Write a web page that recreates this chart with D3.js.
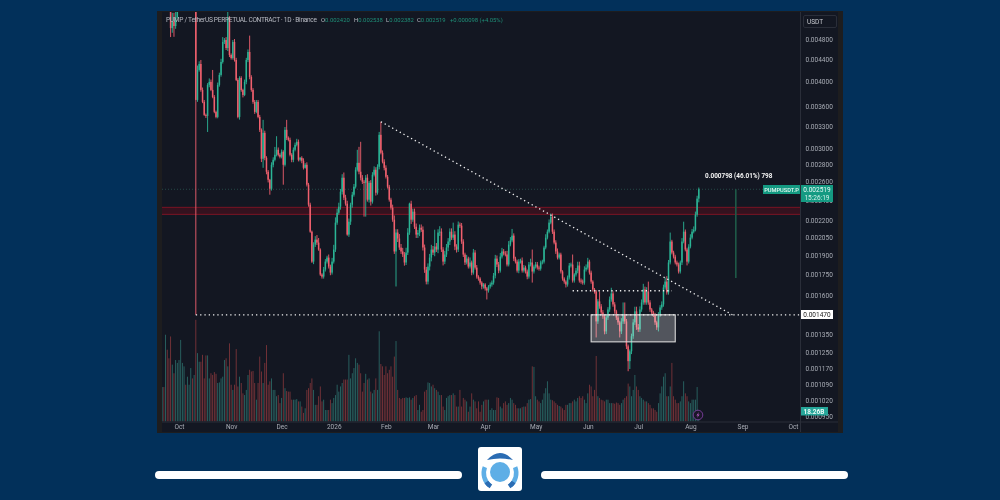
<!DOCTYPE html>
<html><head><meta charset="utf-8">
<style>
html,body{margin:0;padding:0;background:#02305a;width:1000px;height:500px;overflow:hidden}
svg{display:block}
text{font-family:Roboto,"Liberation Sans",sans-serif}
</style>
<script src="https://cdn.jsdelivr.net/npm/d3@7/dist/d3.min.js"></script>
</head><body><svg id="c" width="1000" height="500"></svg>
<script>
// All prices in millionths of a USDT. First candle: 21 Sep 2025, one per day.
const firstDay = "2025-09-21";
const closes = [
5900,5820,6000,5880,5700,5030,5170,5075,5270,5450,
5650,5800,5950,6050,5900,6000,6200,6300,6150,6400,
3696,4203,4312,3858,3665,3466,3451,3942,3993,3858,
3743,3511,3436,3942,4114,4350,4739,4779,4618,5254,
4482,4424,4739,4387,4027,3436,4061,3858,3776,3993,
4387,4540,4079,3858,3665,3511,3665,3436,3251,2871,
3209,2883,2716,2624,2525,2798,2859,2921,2984,2921,
2896,2958,2798,3251,3141,3114,2921,2859,2984,3048,
3088,2859,2883,2847,2762,2798,2569,2358,2100,1847,
1987,2030,2004,1945,1747,1732,1785,1847,1879,1808,
1762,1847,1945,2183,2278,2338,2493,2647,2430,2368,
2074,2192,2358,2461,2547,2739,2822,2716,2647,2602,
2590,2647,2409,2590,2389,2681,2739,2482,2774,3182,
2946,2835,2762,2658,2547,2409,2328,2211,1929,2092,
2039,1962,1929,1904,1840,1920,2092,2368,2211,2288,
2145,2074,2090,2136,2118,1962,1785,1695,1808,1879,
1945,1920,1970,1945,2092,2100,1945,1847,1904,1962,
2013,2100,2047,2074,1970,1945,2164,2155,2013,1904,
1840,1871,1808,1840,1762,1920,1800,1732,1717,1688,
1660,1674,1646,1632,1660,1674,1688,1739,1871,1824,
1777,1887,1929,1912,1904,1824,1987,2022,2065,1871,
1847,1777,1847,1855,1777,1800,1770,1732,1824,1840,
1770,1808,1824,1800,1792,1840,1847,1962,2047,2100,
2183,2240,2100,2004,1929,1879,1904,1770,1717,1695,
1674,1725,1816,1824,1703,1747,1777,1816,1703,1695,
1688,1785,1800,1847,1762,1695,1639,1625,1429,1557,
1524,1485,1460,1369,1453,1504,1570,1611,1537,1492,
1453,1423,1369,1429,1472,1429,1284,1205,1257,1341,
1423,1492,1393,1381,1504,1550,1639,1550,1625,1550,
1504,1485,1472,1423,1393,1472,1517,1537,1653,1695,
1618,1840,2013,1920,1887,1840,1824,1770,1840,2013,
2100,1945,1847,1970,2047,2100,2118,2259,2420,2519];
const upperWicks = [
200,200,200,200,200,200,200,200,200,200,
200,200,200,200,200,200,200,200,200,200,
100,80,50,75,40,30,20,30,60,40,
345,30,20,40,40,60,100,40,60,500,
40,30,40,60,40,30,30,30,20,40,
40,50,330,30,30,30,30,30,30,20,
184,30,20,20,10,30,30,100,179,30,
20,30,20,40,142,20,30,20,30,30,
40,30,10,20,30,20,30,20,20,10,
20,30,40,40,10,10,20,20,15,25,
15,30,40,50,40,40,30,40,60,30,
30,30,20,30,30,30,162,200,372,30,
20,30,40,20,30,30,40,30,30,40,
184,30,30,30,20,20,20,30,40,30,
30,40,30,30,20,40,40,10,30,30,
30,30,25,30,30,30,25,20,25,30,
40,30,148,30,30,50,30,20,30,30,
30,30,30,109,30,20,30,20,25,20,
15,30,15,40,15,30,20,20,10,10,
10,10,10,10,10,15,15,20,30,25,
20,30,30,20,20,30,30,30,60,20,
15,15,20,15,25,20,15,15,20,30,
105,15,20,20,15,15,15,15,30,20,
30,30,30,20,20,25,15,15,10,10,
10,15,20,15,80,10,20,30,30,15,
15,25,25,30,15,15,10,10,10,15,
68,15,15,10,20,15,20,40,15,15,
10,10,10,20,78,78,15,10,10,15,
20,30,30,20,20,20,40,20,30,70,
15,10,10,10,10,15,15,20,20,30,
40,20,79,15,15,15,15,15,15,30,
92,20,15,20,30,25,30,30,30,19];
const lowerWicks = [
60,40,40,50,60,190,100,230,60,20,
40,40,40,40,40,40,40,40,40,40,
2226,30,30,30,20,15,30,230,40,20,
20,20,20,20,30,30,30,40,40,60,
40,30,30,30,20,20,40,30,40,20,
40,40,40,30,30,30,20,20,30,40,
109,30,30,30,64,20,30,20,20,20,
20,20,229,20,30,20,20,30,30,20,
20,20,20,30,20,10,20,20,10,10,
20,20,20,10,10,15,15,15,15,15,
20,15,15,20,20,20,30,30,25,20,
10,20,30,30,20,20,20,30,30,25,
350,350,20,30,40,20,20,30,20,30,
20,20,30,20,20,20,20,20,20,269,
30,20,20,20,25,20,20,20,40,20,
20,30,30,30,20,25,25,20,20,30,
30,20,30,20,30,30,20,30,20,20,
30,30,20,20,30,25,20,20,20,20,
20,15,15,15,20,15,15,15,15,15,
20,15,15,62,15,15,15,15,20,20,
20,15,15,15,15,15,15,15,15,20,
15,15,20,15,15,15,15,20,15,15,
82,15,15,15,15,15,15,15,15,15,
15,15,20,15,20,15,15,15,15,15,
21,15,15,15,15,15,15,20,15,15,
15,15,15,15,15,15,15,15,95,15,
15,15,15,17,15,15,15,15,15,15,
15,15,35,15,15,15,15,51,40,15,
15,15,15,15,15,15,15,15,15,15,
15,15,15,15,15,24,15,15,15,15,
15,15,15,15,15,15,15,15,15,20,
15,15,30,15,15,15,15,15,20,38];
// Volume in billions
const volumes = [
60,60,151,125,110,148,99,84,107,102,
107,142,102,96,64,78,64,93,75,81,
177,119,104,104,116,75,115,115,75,84,
81,86,83,67,68,75,78,107,110,96,
136,64,55,64,126,61,78,67,49,46,
55,81,90,87,88,67,38,67,113,87,
67,102,133,64,70,75,55,55,44,46,
32,41,84,58,53,52,52,38,38,38,
39,35,35,26,15,23,55,58,67,75,
55,29,29,44,61,35,38,20,20,20,
38,32,41,46,64,52,61,67,73,73,
73,116,75,84,93,110,102,99,84,52,
67,83,73,75,52,49,55,75,55,157,
100,96,81,96,84,90,96,78,113,140,
55,41,39,41,41,42,41,42,38,41,
44,46,20,29,17,20,52,55,68,67,
61,64,58,55,52,46,46,26,20,41,
44,46,46,49,46,26,26,55,26,41,
38,35,17,26,49,38,35,23,35,17,
29,35,38,38,38,20,23,20,20,42,
41,26,23,32,35,29,32,41,38,32,
29,23,23,23,25,26,26,32,38,39,
96,95,44,38,35,32,38,49,58,70,
49,38,37,35,32,29,27,26,23,20,
29,29,32,32,35,38,35,41,44,41,
44,38,32,49,64,61,44,55,114,44,
41,38,37,35,38,38,32,32,32,31,
33,32,29,32,38,41,44,66,61,44,
55,81,61,55,44,41,38,35,35,32,
29,23,23,20,17,32,49,61,78,84,
44,44,61,102,44,38,32,32,35,44,
70,49,44,35,32,38,38,38,60,18.26];
const priceTicks = [4800,4400,4000,3600,3300,3000,2800,2600,2400,2200,2050,1900,1750,1600,1350,1250,1170,1090,1020,950];
const monthTicks = ["2025-10-01","2025-11-01","2025-12-01","2026-01-01","2026-02-01","2026-03-01","2026-04-01","2026-05-01","2026-06-01","2026-07-01","2026-08-01","2026-09-01","2026-10-01"];
const monthLabels = ["Oct","Nov","Dec","2026","Feb","Mar","Apr","May","Jun","Jul","Aug","Sep","Oct"];
const zonePrices = [2331,2262];
const supportPrice = 1470;
const shelfPrice = 1630;
const shelfDates = ["2026-05-23","2026-07-21"];
const boxPrices = [1470,1309];
const boxDates = ["2026-06-03","2026-07-23"];
const trendPoints = [["2026-01-29",3366],["2026-08-26",1470]];
const measureDate = "2026-08-28";
const measurePrices = [2519,1721];
const lastPrice = 2519;

const svg = d3.select("#c");
const parse = s => new Date(s+"T00:00:00Z");
const M = {l:162,r:800,t:12,b:421.5};
const x = d3.scaleUtc().domain([parse("2025-10-01"),parse("2026-10-01")]).range([179,793]);
const y = d3.scaleLog().domain([4800,1020]).range([39,400]);
const v = d3.scaleLinear().domain([0,177]).range([M.b,M.b-101.7]);
const TEAL="#2bb596", RED="#f0606e", VT="#2a6664", VR="#7a3439";

const start = parse(firstDay);
const candles = closes.map((c,i)=>{
  const o = i? closes[i-1]:c;
  return {date:d3.utcDay.offset(start,i),o,c,
    h:Math.max(o,c)+upperWicks[i], l:Math.min(o,c)-lowerWicks[i], vol:volumes[i], up:c>=o};
});

// frame
svg.append("rect").attr("x",157).attr("y",11).attr("width",686).attr("height",422).attr("fill","#1d1d1f");
svg.append("rect").attr("x",M.l).attr("y",M.t).attr("width",676).attr("height",420).attr("fill","#131722");
svg.append("defs").append("clipPath").attr("id","plot").append("rect")
  .attr("x",M.l).attr("y",M.t).attr("width",M.r-M.l).attr("height",M.b-M.t);
const root = svg.append("g").style("filter","blur(0.35px)");
const p = root.append("g").attr("clip-path","url(#plot)");

// volume
p.append("g").selectAll("rect").data(candles).join("rect")
  .attr("x",d=>x(d.date)-0.45).attr("width",.9)
  .attr("y",d=>v(d.vol)).attr("height",d=>v(0)-v(d.vol))
  .attr("fill",d=>d.up?VT:VR);

// zone
const z = p.append("g");
z.append("rect").attr("x",M.l).attr("width",M.r-M.l)
  .attr("y",y(zonePrices[0])).attr("height",y(zonePrices[1])-y(zonePrices[0]))
  .attr("fill","#40111f").attr("fill-opacity",.75);
zonePrices.forEach(q=>z.append("line").attr("x1",M.l).attr("x2",M.r).attr("y1",y(q)).attr("y2",y(q))
  .attr("stroke","#7a1424").attr("stroke-width",1));

// last price line
p.append("line").attr("x1",M.l).attr("x2",M.r).attr("y1",y(lastPrice)).attr("y2",y(lastPrice))
  .attr("stroke","#2e5f57").attr("stroke-width",.7).attr("stroke-dasharray","1 2");

// candles
const cg = p.append("g");
cg.selectAll("line").data(candles).join("line")
  .attr("x1",d=>x(d.date)).attr("x2",d=>x(d.date))
  .attr("y1",d=>y(d.h)).attr("y2",d=>y(d.l))
  .attr("stroke",d=>d.up?TEAL:RED).attr("stroke-width",.9);
cg.selectAll("rect").data(candles).join("rect")
  .attr("x",d=>x(d.date)-0.75).attr("width",1.5)
  .attr("y",d=>y(Math.max(d.o,d.c))).attr("height",d=>Math.max(.6,Math.abs(y(d.o)-y(d.c))))
  .attr("fill",d=>d.up?TEAL:RED);

// box
p.append("rect").attr("x",x(parse(boxDates[0]))).attr("width",x(parse(boxDates[1]))-x(parse(boxDates[0])))
  .attr("y",y(boxPrices[0])).attr("height",y(boxPrices[1])-y(boxPrices[0]))
  .attr("fill","#ffffff").attr("fill-opacity",.27).attr("stroke","#d8d8d8").attr("stroke-width",1.1);

// dotted annotations
const dot = s=>s.attr("stroke","#f2f2f2").attr("stroke-width",1.3).attr("stroke-dasharray","1.3 3").attr("fill","none");
p.append("line").attr("x1",x(parse(trendPoints[0][0]))).attr("y1",y(trendPoints[0][1]))
  .attr("x2",x(parse(trendPoints[1][0]))).attr("y2",y(trendPoints[1][1])).call(dot);
p.append("line").attr("x1",x(candles[20].date)).attr("x2",M.r).attr("y1",y(supportPrice)).attr("y2",y(supportPrice)).call(dot);
p.append("line").attr("x1",x(parse(shelfDates[0]))).attr("x2",x(parse(shelfDates[1]))).attr("y1",y(shelfPrice)).attr("y2",y(shelfPrice)).call(dot);

// measure
const mx = x(parse(measureDate));
p.append("line").attr("x1",mx).attr("x2",mx).attr("y1",y(measurePrices[0])).attr("y2",y(measurePrices[1]))
  .attr("stroke","#1f5a48").attr("stroke-width",1.6);
root.append("text").attr("x",705).attr("y",178).attr("fill","#f4f4f4").attr("font-size",6.4).attr("font-weight",700)
  .text("0.000798 (46.01%) 798");

// separators
root.append("line").attr("x1",M.r+.5).attr("x2",M.r+.5).attr("y1",M.t).attr("y2",432).attr("stroke","#2a2e39");
root.append("line").attr("x1",M.l).attr("x2",838).attr("y1",M.b+.5).attr("y2",M.b+.5).attr("stroke","#2a2e39");

// price axis
const pa = root.append("g").attr("transform",`translate(${M.r},0)`)
  .call(d3.axisRight(y).tickValues(priceTicks).tickSize(0).tickPadding(5.5).tickFormat(d=>(d/1e6).toFixed(6)));
pa.select(".domain").remove();
pa.selectAll("text").attr("fill","#a9adb6").attr("font-size",6.5).attr("font-family","Roboto,sans-serif");

// time axis
const ta = root.append("g").attr("transform",`translate(0,${M.b})`)
  .call(d3.axisBottom(x).tickValues(monthTicks.map(parse)).tickSize(0).tickPadding(2.5).tickFormat((d,i)=>monthLabels[i]));
ta.select(".domain").remove();
ta.selectAll("text").attr("fill","#a9adb6").attr("font-size",6.5).attr("font-family","Roboto,sans-serif");

// title
const tt = root.append("g").attr("font-size",6.6).attr("fill","#b8bbc3");
tt.append("text").attr("x",166).attr("y",22).attr("textLength",151).text("PUMP / TetherUS PERPETUAL CONTRACT · 1D · Binance");
[["O","0.002420",321],["H","0.002538",354],["L","0.002382",386],["C","0.002519",417]].forEach(([a,b,px])=>{
  const t=tt.append("text").attr("x",px).attr("y",22).attr("font-size",5.9);
  t.append("tspan").text(a);
  t.append("tspan").attr("fill","#1f8f78").text(b);
});
tt.append("text").attr("x",450).attr("y",22).attr("fill","#1f8f78").attr("font-size",5.9).text("+0.000098 (+4.05%)");

// USDT box
root.append("rect").attr("x",803.5).attr("y",15.5).attr("width",33).attr("height",12).attr("rx",1.5).attr("fill","#131722").attr("stroke","#2a2e39");
root.append("text").attr("x",807).attr("y",24).attr("fill","#c8cad0").attr("font-size",6.5).text("USDT");

// support tag
root.append("rect").attr("x",801).attr("y",310).attr("width",32).attr("height",9).attr("fill","#fff");
root.append("text").attr("x",817).attr("y",317).attr("text-anchor","middle").attr("fill","#222").attr("font-size",6.5).text((supportPrice/1e6).toFixed(6));

// last price tags
root.append("rect").attr("x",763).attr("y",185).attr("width",37).attr("height",9).attr("fill","#149a82");
root.append("text").attr("x",781.5).attr("y",192).attr("text-anchor","middle").attr("fill","#e6f7f2").attr("font-size",5.7).attr("font-weight",500).text("PUMPUSDT.P");
root.append("rect").attr("x",801).attr("y",185).attr("width",32).attr("height",17).attr("fill","#149a82");
root.append("text").attr("x",817).attr("y",192).attr("text-anchor","middle").attr("fill","#eafaf6").attr("font-size",6.5).text((lastPrice/1e6).toFixed(6));
root.append("text").attr("x",817).attr("y",199.5).attr("text-anchor","middle").attr("fill","#d4f1ea").attr("font-size",6.5).text("15:26:19");

// volume tag
root.append("rect").attr("x",801).attr("y",407).attr("width",27).attr("height",8.5).attr("fill","#26a69a");
root.append("text").attr("x",814).attr("y",414).attr("text-anchor","middle").attr("fill","#eafaf6").attr("font-size",6.5).attr("font-weight",700).text("18.26B");

// bolt badge
const bolt = root.append("g").attr("transform","translate(698,415)");
bolt.append("circle").attr("r",4.8).attr("fill","#1a1628").attr("stroke","#7d3f9f").attr("stroke-width",.9);
bolt.append("path").attr("d","M1,-3L-1.6,.5H0L-1,3L1.6,-.6H0Z").attr("fill","#b45cc4");

// footer bars
[[155,462],[541,848]].forEach(([a,b])=>svg.append("rect").attr("x",a).attr("y",471).attr("width",b-a).attr("height",8).attr("rx",4).attr("fill","#fff"));

// logo
const logo = svg.append("g").attr("transform","translate(500,469)");
logo.append("rect").attr("x",-22).attr("y",-22).attr("width",44).attr("height",44).attr("rx",3).attr("fill","#fff");
logo.append("circle").attr("cx",0).attr("cy",3).attr("r",10).attr("fill","#5eaee6");
logo.append("path").attr("d","M-13,-9Q0,-23 13,-9Q0,-12 -13,-9Z").attr("fill","#2b6cb3");
const arc = d3.arc();
logo.append("path").attr("d",arc({innerRadius:14,outerRadius:18.5,startAngle:-2.45,endAngle:-1.2})).attr("transform","translate(0,4)").attr("fill","#5eaee6");
logo.append("path").attr("d",arc({innerRadius:14,outerRadius:18.5,startAngle:1.2,endAngle:2.45})).attr("transform","translate(0,4)").attr("fill","#5eaee6");
logo.append("path").attr("d",arc({innerRadius:14,outerRadius:18.5,startAngle:-2.55,endAngle:-2.15})).attr("transform","translate(0,4)").attr("fill","#2b6cb3");
logo.append("path").attr("d",arc({innerRadius:14,outerRadius:18.5,startAngle:2.15,endAngle:2.55})).attr("transform","translate(0,4)").attr("fill","#2b6cb3");
</script></body></html>
